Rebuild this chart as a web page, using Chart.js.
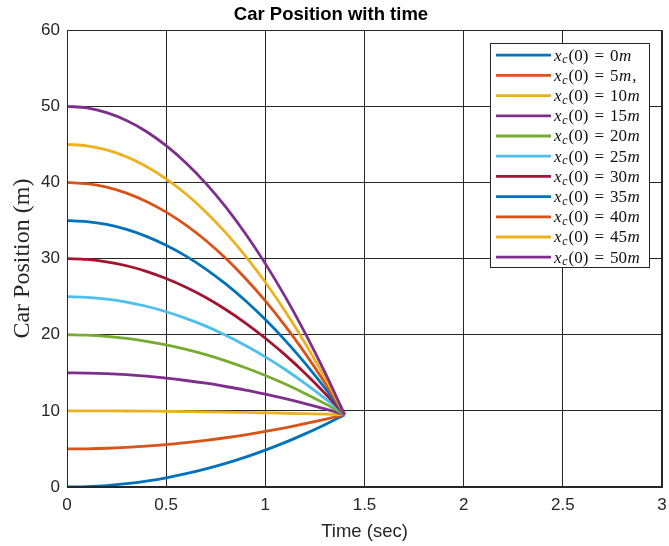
<!DOCTYPE html>
<html>
<head>
<meta charset="utf-8">
<script src="https://cdn.jsdelivr.net/npm/chart.js@4/dist/chart.umd.min.js"></script>
<style>
  html, body { margin: 0; padding: 0; background: #fff; }
  #wrap { width: 669px; height: 546px; position: relative; }
</style>
</head>
<body>
<div id="wrap"><canvas id="c" width="669" height="546"></canvas></div>
<script>
// ---- data ----
const timeSec = [0, 0.1, 0.2, 0.3, 0.4, 0.5, 0.6, 0.7, 0.8, 0.9, 1.0, 1.1, 1.2, 1.3, 1.4];
const startLabels = ["0m", "5m,", "10m", "15m", "20m", "25m", "30m", "35m", "40m", "45m", "50m"];
const pos0  = [0, 0.05, 0.19, 0.44, 0.78, 1.21, 1.75, 2.38, 3.10, 3.93, 4.85, 5.86, 6.98, 8.19, 9.5];
const pos5  = [5, 5.02, 5.09, 5.21, 5.37, 5.57, 5.83, 6.13, 6.47, 6.86, 7.30, 7.78, 8.31, 8.88, 9.5];
const pos10 = [10, 10.00, 9.99, 9.98, 9.96, 9.94, 9.91, 9.88, 9.84, 9.79, 9.74, 9.69, 9.63, 9.57, 9.5];
const pos15 = [15, 14.97, 14.89, 14.75, 14.55, 14.30, 13.99, 13.63, 13.20, 12.73, 12.19, 11.60, 10.96, 10.26, 9.5];
const pos20 = [20, 19.95, 19.79, 19.52, 19.14, 18.66, 18.07, 17.38, 16.57, 15.66, 14.64, 13.52, 12.29, 10.95, 9.5];
const pos25 = [25, 24.92, 24.68, 24.29, 23.74, 23.02, 22.15, 21.13, 19.94, 18.59, 17.09, 15.43, 13.61, 11.64, 9.5];
const pos30 = [30, 29.90, 29.58, 29.06, 28.33, 27.38, 26.23, 24.88, 23.31, 21.53, 19.54, 17.35, 14.94, 12.32, 9.5];
const pos35 = [35, 34.87, 34.48, 33.83, 32.92, 31.75, 30.32, 28.63, 26.67, 24.46, 21.99, 19.26, 16.27, 13.01, 9.5];
const pos40 = [40, 39.84, 39.38, 38.60, 37.51, 36.11, 34.40, 32.38, 30.04, 27.39, 24.44, 21.17, 17.59, 13.70, 9.5];
const pos45 = [45, 44.82, 44.28, 43.37, 42.10, 40.47, 38.48, 36.13, 33.41, 30.33, 26.89, 23.09, 18.92, 14.39, 9.5];
const pos50 = [50, 49.79, 49.17, 48.14, 46.70, 44.83, 42.56, 39.88, 36.78, 33.26, 29.34, 25.00, 20.25, 15.08, 9.5];
const xAxisLabel = "Time (sec)";
const yAxisLabel = "Car Position (m)";
const chartTitle = "Car Position with time";

const series = [pos0, pos5, pos10, pos15, pos20, pos25, pos30, pos35, pos40, pos45, pos50];
const colors = ["#0072BD", "#D95319", "#EDB120", "#7E2F8E", "#77AC30", "#4DBEEE", "#A2142F",
                "#0072BD", "#D95319", "#EDB120", "#7E2F8E"];

const datasets = series.map((s, i) => ({
  label: "x_c(0) = " + startLabels[i],
  data: s.map((v, k) => ({ x: timeSec[k], y: v })),
  borderColor: colors[i],
  backgroundColor: colors[i],
  borderWidth: 2.8,
  pointRadius: 0,
  fill: false,
  cubicInterpolationMode: 'monotone',
  order: series.length - i
}));

const AX = '#262626';

const framePlugin = {
  id: 'frame',
  afterDatasetsDraw(chart) {
    const { ctx, chartArea: ca } = chart;
    ctx.save();
    ctx.strokeStyle = AX;
    ctx.lineWidth = 1;
    ctx.strokeRect(Math.round(ca.left) + 0.5, Math.round(ca.top) + 0.5,
                   Math.round(ca.right - ca.left) - 1, Math.round(ca.bottom - ca.top) - 1);

    // legend box (inside axes, top-right)
    const lx = ca.right - 172, ly = ca.top + 13, lw = 159, lh = 224;
    ctx.fillStyle = '#fff';
    ctx.fillRect(lx, ly, lw, lh);
    ctx.strokeStyle = AX;
    ctx.strokeRect(Math.round(lx) + 0.5, Math.round(ly) + 0.5, lw, lh);
    const fs = 17;
    const fam = '"Liberation Serif", serif';
    chart.data.datasets.forEach((ds, i) => {
      const cy = ly + 12 + i * 20.2;
      ctx.strokeStyle = ds.borderColor;
      ctx.lineWidth = 2.8;
      ctx.beginPath();
      ctx.moveTo(lx + 6, cy);
      ctx.lineTo(lx + 61, cy);
      ctx.stroke();
      const rest = ds.label.split("= ")[1];
      let x = lx + 64;
      ctx.fillStyle = '#111';
      ctx.textBaseline = 'middle';
      ctx.textAlign = 'left';
      const base = cy + 1;
      ctx.font = `italic ${fs}px ${fam}`;
      ctx.fillText('x', x, base); x += ctx.measureText('x').width + 0.8;
      ctx.font = `italic ${fs * 0.7}px ${fam}`;
      ctx.fillText('c', x, base + 4); x += ctx.measureText('c').width + 1;
      ctx.font = `${fs}px ${fam}`;
      ctx.fillText('(0)', x, base); x += ctx.measureText('(0)').width + 6;
      ctx.fillText('=', x, base); x += ctx.measureText('=').width + 6;
      const m = rest.match(/^(\d+)(m)(,?)$/);
      ctx.fillText(m[1], x, base); x += ctx.measureText(m[1]).width + 0.5;
      ctx.font = `italic ${fs}px ${fam}`;
      ctx.fillText('m', x, base); x += ctx.measureText('m').width + 1;
      if (m[3]) {
        ctx.font = `${fs}px ${fam}`;
        ctx.fillText(',', x, base);
      }
    });
    ctx.restore();
  }
};

new Chart(document.getElementById('c'), {
  type: 'line',
  data: { datasets },
  plugins: [framePlugin],
  options: {
    responsive: false,
    animation: false,
    devicePixelRatio: 1,
    layout: { padding: { left: 0, right: 7, top: 0, bottom: 0 } },
    plugins: {
      legend: { display: false },
      tooltip: { enabled: false },
      title: {
        display: true,
        text: chartTitle,
        color: '#000',
        font: { family: '"Liberation Sans", Arial, sans-serif', size: 18.5, weight: 'bold' },
        padding: { top: 4, bottom: 4 }
      }
    },
    scales: {
      x: {
        type: 'linear',
        min: 0, max: 3,
        ticks: {
          stepSize: 0.5,
          color: AX,
          padding: 8,
          maxRotation: 0,
          font: { family: '"Liberation Sans", Arial, sans-serif', size: 17 },
          callback: (v) => String(Math.round(v * 10) / 10)
        },
        grid: { color: AX, lineWidth: 1, drawTicks: false },
        border: { display: true, color: AX, width: 1 },
        title: {
          display: true,
          text: xAxisLabel,
          color: AX,
          font: { family: '"Liberation Sans", Arial, sans-serif', size: 18.5 },
          padding: { top: 0, bottom: 3 }
        },
        afterFit(scale) { scale.height = 59; scale.paddingLeft = 0; scale.paddingRight = 0; }
      },
      y: {
        min: 0, max: 60,
        ticks: {
          stepSize: 10,
          color: AX,
          padding: 7,
          font: { family: '"Liberation Sans", Arial, sans-serif', size: 17 },
          callback: (v) => String(v)
        },
        grid: { color: AX, lineWidth: 1, drawTicks: false },
        border: { display: true, color: AX, width: 1 },
        title: {
          display: true,
          text: yAxisLabel,
          color: AX,
          font: { family: '"Liberation Serif", serif', size: 24 },
          padding: { top: 8, bottom: 0 }
        },
        afterFit(scale) { scale.width = 67; scale.paddingTop = 0; scale.paddingBottom = 0; }
      }
    }
  }
});
</script>
</body>
</html>
